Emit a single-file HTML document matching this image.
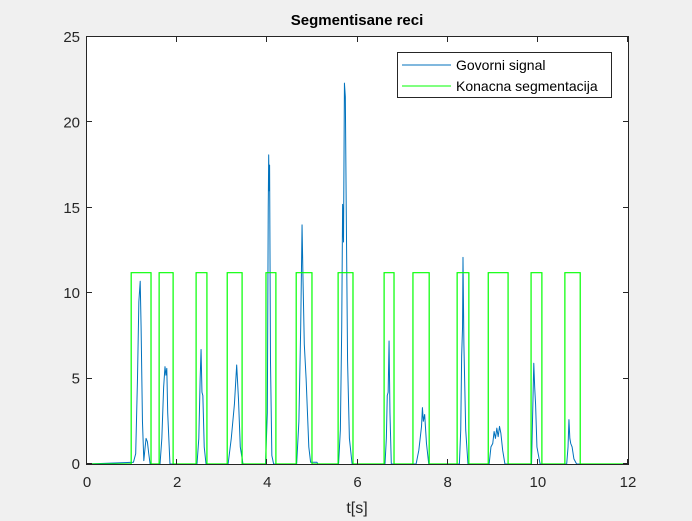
<!DOCTYPE html>
<html><head><meta charset="utf-8">
<style>
html,body{margin:0;padding:0;background:#f0f0f0;}
svg{display:block;font-family:"Liberation Sans",Arial,sans-serif;}
</style></head>
<body>
<svg id="chart" width="692" height="521">
  <rect x="0" y="0" width="692" height="521" fill="#f0f0f0"/>
  <rect x="87" y="37" width="541" height="427" fill="#fff"/>
  <g id="marks"></g>
  <g id="axes"></g>
  <text x="357" y="25" text-anchor="middle" font-size="15" font-weight="bold" fill="#000">Segmentisane reci</text>
  <text x="357" y="513" text-anchor="middle" font-size="16" fill="#262626">t[s]</text>
  <g>
    <rect x="397.5" y="52.5" width="214" height="45" fill="#fff" stroke="#262626" stroke-width="1"/>
    <line x1="402" y1="65" x2="451" y2="65" stroke="#0072bd" stroke-width="1"/>
    <text x="456" y="70" font-size="14" fill="#000">Govorni signal</text>
    <line x1="402" y1="86" x2="451" y2="86" stroke="#00ff00" stroke-width="1"/>
    <text x="456" y="91" font-size="14" fill="#000">Konacna segmentacija</text>
  </g>
</svg>
<script>
// Data
const xTicks = [0, 2, 4, 6, 8, 10, 12];
const yTicks = [0, 5, 10, 15, 20, 25];
const segStarts = [0.98, 1.60, 2.42, 3.11, 3.97, 4.64, 5.57, 6.59, 7.23, 8.21, 8.90, 9.85, 10.60];
const segEnds   = [1.42, 1.91, 2.66, 3.44, 4.19, 4.99, 5.90, 6.81, 7.59, 8.47, 9.34, 10.09, 10.94];
const segLevel = 11.2;
const sigT = [0, 1.03, 1.08, 1.12, 1.15, 1.18, 1.20, 1.23, 1.26, 1.29, 1.31, 1.34, 1.37, 1.40,
  1.62, 1.66, 1.70, 1.73, 1.75, 1.77, 1.79, 1.84,
  2.44, 2.48, 2.51, 2.53, 2.55, 2.57, 2.60, 2.64,
  3.13, 3.20, 3.27, 3.32, 3.36, 3.40, 3.46,
  3.96, 4.00, 4.02, 4.03, 4.04, 4.05, 4.07, 4.10, 4.14,
  4.65, 4.70, 4.74, 4.77, 4.79, 4.82, 4.86, 4.92, 4.96, 5.10, 5.12,
  5.58, 5.62, 5.65, 5.67, 5.69, 5.71, 5.73, 5.75, 5.78, 5.82, 5.88,
  6.61, 6.64, 6.66, 6.68, 6.70, 6.72, 6.75,
  7.30, 7.36, 7.42, 7.44, 7.46, 7.49, 7.53, 7.58,
  8.26, 8.29, 8.31, 8.33, 8.34, 8.36, 8.40, 8.45,
  8.92, 8.96, 9.00, 9.03, 9.06, 9.09, 9.12, 9.15, 9.18, 9.22, 9.27,
  9.86, 9.89, 9.91, 9.93, 9.95, 9.98, 10.05,
  10.64, 10.67, 10.69, 10.71, 10.73, 10.76, 10.80, 10.86, 12];
const sigV = [0, 0.1, 0.6, 5.0, 9.5, 10.7, 8.0, 2.5, 0.2, 1.0, 1.5, 1.3, 0.6, 0,
  0, 1.5, 4.5, 5.7, 5.2, 5.6, 3.0, 0,
  0, 1.5, 5.0, 6.7, 4.2, 4.0, 1.0, 0,
  0, 1.5, 3.5, 5.8, 3.8, 1.0, 0,
  0, 3.0, 15.0, 18.1, 16.0, 17.5, 6.0, 0.5, 0,
  0, 2.5, 8.0, 14.0, 11.0, 7.0, 5.0, 1.0, 0.1, 0.1, 0,
  0, 2.0, 8.0, 15.2, 13.0, 22.3, 21.5, 15.0, 6.0, 1.5, 0,
  0, 1.5, 4.0, 4.2, 7.2, 3.0, 0,
  0, 0.8, 2.2, 3.3, 2.5, 2.9, 1.2, 0,
  0, 2.0, 6.3, 8.0, 12.1, 7.0, 2.0, 0,
  0, 1.0, 1.2, 1.9, 1.5, 2.1, 1.6, 2.2, 1.8, 0.8, 0,
  0, 3.5, 5.9, 4.5, 3.5, 1.0, 0,
  0, 1.0, 2.6, 1.5, 1.2, 1.0, 0.3, 0, 0];

const NS='http://www.w3.org/2000/svg';
const L=87, R=628, T=37, B=464;
const xS = v => L + (v - 0) / 12 * (R - L);
const yS = v => B - (v - 0) / 25 * (B - T);
const marks=document.getElementById('marks');
const axes=document.getElementById('axes');
function mk(tag, attrs, parent){const e=document.createElementNS(NS,tag);for(const k in attrs)e.setAttribute(k,attrs[k]);parent.appendChild(e);return e;}

// signal
let d = sigT.map((t,i)=>(i?'L':'M')+xS(t).toFixed(2)+','+yS(sigV[i]).toFixed(2)).join(' ');
const sig = mk('path',{d:d,fill:'none',stroke:'#0072bd','stroke-width':1,'stroke-linejoin':'round'},marks);



// segmentation
let sd = 'M'+xS(0)+','+yS(0);
segStarts.forEach((s,i)=>{
  sd += ' L'+xS(s).toFixed(2)+','+yS(0)+' L'+xS(s).toFixed(2)+','+yS(segLevel).toFixed(2)+' L'+xS(segEnds[i]).toFixed(2)+','+yS(segLevel).toFixed(2)+' L'+xS(segEnds[i]).toFixed(2)+','+yS(0);
});
sd += ' L'+xS(12)+','+yS(0);
const seg = mk('path',{d:sd,fill:'none',stroke:'#00ff00','stroke-width':1.2},marks);



// axes box
const box = mk('rect',{x:L-0.5,y:T-0.5,width:R-L+1,height:B-T+1,fill:'none',stroke:'#262626','stroke-width':1},axes);


xTicks.forEach(v=>{
  const x=Math.round(xS(v))-0.5;
  const t1=mk('line',{x1:x,y1:B,x2:x,y2:B-5,stroke:'#262626'},axes);
  
  
  const t2=mk('line',{x1:x,y1:T,x2:x,y2:T+5,stroke:'#262626'},axes);
  
  
  const lb=mk('text',{x:xS(v),y:487,'text-anchor':'middle','font-size':15,fill:'#262626'},axes);
  lb.textContent=v;
  
  
});
yTicks.forEach(v=>{
  const y=Math.round(yS(v))-0.5;
  const t1=mk('line',{x1:L,y1:y,x2:L+5,y2:y,stroke:'#262626'},axes);
  
  
  const t2=mk('line',{x1:R,y1:y,x2:R-5,y2:y,stroke:'#262626'},axes);
  
  
  const lb=mk('text',{x:80,y:yS(v)+5,'text-anchor':'end','font-size':15,fill:'#262626'},axes);
  lb.textContent=v;
  
  
});
</script>
</body></html>
